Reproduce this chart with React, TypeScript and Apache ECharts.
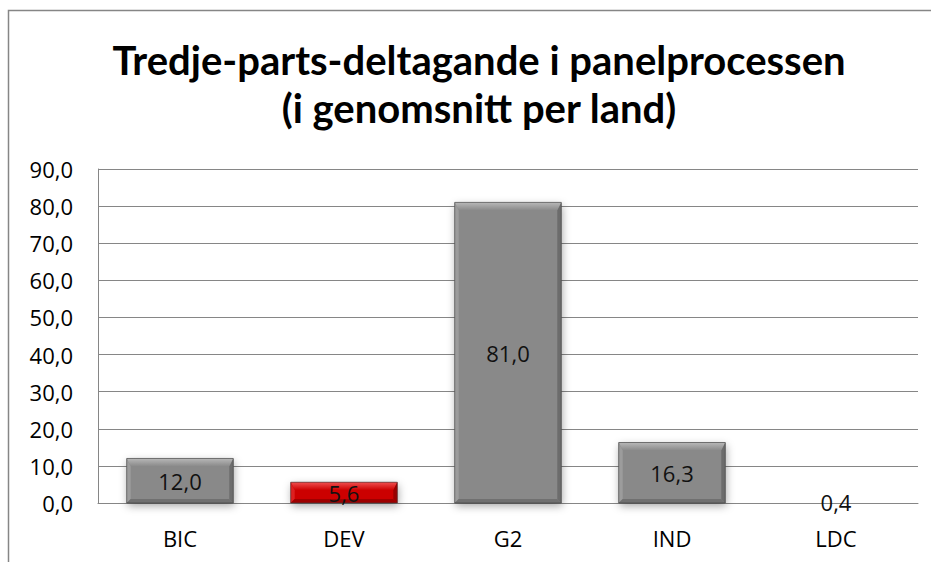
import React, { useEffect, useRef } from "react";
import * as echarts from "echarts";

const categories = ["BIC", "DEV", "G2", "IND", "LDC"];
const values = [12.0, 5.6, 81.0, 16.3, 0.4];
const highlighted = ["DEV"];
const titleLines = ["Tredje-parts-deltagande i panelprocessen", "(i genomsnitt per land)"];

const fmt = (v: number) => v.toFixed(1).replace(".", ",");

const palettes = {
  gray: { main: "#898989", top: "#b8b8b8", left: "#9c9c9c", right: "#6c6c6c", bottom: "#707070" },
  red: { main: "#cc0000", top: "#f05050", left: "#dd2020", right: "#990000", bottom: "#9e0000" },
};

export default function App() {
  const ref = useRef<HTMLDivElement>(null);
  useEffect(() => {
    if (!ref.current) return;
    const chart = echarts.init(ref.current, undefined, { renderer: "svg" });
    const titleFont = "Lato, 'Open Sans', sans-serif";
    const font = "'Open Sans', Lato, sans-serif";
    chart.setOption({
      animation: false,
      backgroundColor: "#ffffff",
      textStyle: { fontFamily: font },
      title: {
        text: titleLines.join("\n"),
        left: 474,
        top: 31,
        textAlign: "center",
        textStyle: {
          fontFamily: titleFont,
          fontWeight: "bold",
          fontSize: 40,
          lineHeight: 48,
          color: "#000",
        },
      },
      graphic: [
        {
          type: "rect",
          shape: { x: 8.5, y: 10.5, width: 1000, height: 1000 },
          style: { fill: "none", stroke: "#868686", lineWidth: 1.5 },
          silent: true,
          z: 0,
        },
      ],
      grid: { left: 98, right: 13, top: 169, bottom: 59, containLabel: false },
      xAxis: {
        type: "category",
        data: categories,
        axisLine: { show: true, lineStyle: { color: "#868686", width: 1 } },
        axisTick: { show: false },
        axisLabel: { fontSize: 22, color: "#000", margin: 24, fontFamily: font },
      },
      yAxis: {
        type: "value",
        min: 0,
        max: 90,
        interval: 10,
        axisLine: { show: true, lineStyle: { color: "#868686", width: 1 } },
        axisTick: { show: false },
        splitLine: { show: true, lineStyle: { color: "#868686", width: 1 } },
        axisLabel: { fontSize: 22, color: "#000", margin: 25, fontFamily: font, formatter: (v: number) => fmt(v) },
      },
      series: [
        {
          type: "custom",
          z: 3,
          data: values.map((v, i) => [i, v]),
          renderItem: (params: any, api: any) => {
            const idx = api.value(0);
            const val = api.value(1);
            const top = api.coord([idx, val]);
            const base = api.coord([idx, 0]);
            const band = api.size([1, 0])[0];
            const w = band * 0.65;
            const x0 = top[0] - w / 2;
            const x1 = top[0] + w / 2;
            const yt = top[1];
            const yb = base[1];
            const h = yb - yt;
            const p = highlighted.includes(categories[idx]) ? palettes.red : palettes.gray;
            const bt = Math.min(8, h / 2);
            const bb = Math.min(4, h / 2);
            const bs = Math.min(4, w / 2);
            const big = h > 4;
            return {
              type: "group",
              children: [
                {
                  type: "rect",
                  shape: { x: x0, y: yt, width: w, height: h },
                  style: big
                    ? {
                        fill: p.main,
                        shadowBlur: 8,
                        shadowColor: "rgba(0,0,0,0.35)",
                        shadowOffsetY: 3,
                        shadowOffsetX: 1,
                      }
                    : { fill: "rgba(0,0,0,0)" },
                },
                {
                  type: "polygon",
                  invisible: !big,
                  shape: { points: [[x0, yt], [x1, yt], [x1 - bs, yt + bt], [x0 + bs, yt + bt]] },
                  style: {
                    fill: new echarts.graphic.LinearGradient(0, 0, 0, 1, [
                      { offset: 0, color: p.top },
                      { offset: 1, color: p.main },
                    ]),
                  },
                },
                {
                  type: "polygon",
                  invisible: !big,
                  shape: { points: [[x1, yt], [x1, yb], [x1 - bs, yb - bb], [x1 - bs, yt + bt]] },
                  style: { fill: p.right },
                },
                {
                  type: "polygon",
                  invisible: !big,
                  shape: { points: [[x0, yt], [x0 + bs, yt + bt], [x0 + bs, yb - bb], [x0, yb]] },
                  style: { fill: p.left },
                },
                {
                  type: "polygon",
                  invisible: !big,
                  shape: { points: [[x0, yb], [x0 + bs, yb - bb], [x1 - bs, yb - bb], [x1, yb]] },
                  style: { fill: p.bottom },
                },
                {
                  type: "rect",
                  invisible: !big,
                  shape: { x: x0, y: yt, width: w, height: h },
                  style: { fill: "none", stroke: "rgba(60,60,60,0.6)", lineWidth: 1 },
                },
              ],
            };
          },
        },
        {
          type: "bar",
          z: 5,
          barWidth: "65%",
          data: values,
          itemStyle: { color: "rgba(0,0,0,0)" },
          label: {
            show: true,
            position: "inside",
            fontSize: 22,
            color: "#111",
            fontFamily: font,
            formatter: (p: any) => fmt(p.value),
          },
        },
      ],
    });
    return () => chart.dispose();
  }, []);
  return (
    <div
      ref={ref}
      style={{ position: "fixed", left: 0, top: 0, width: 931, height: 562 }}
    />
  );
}
